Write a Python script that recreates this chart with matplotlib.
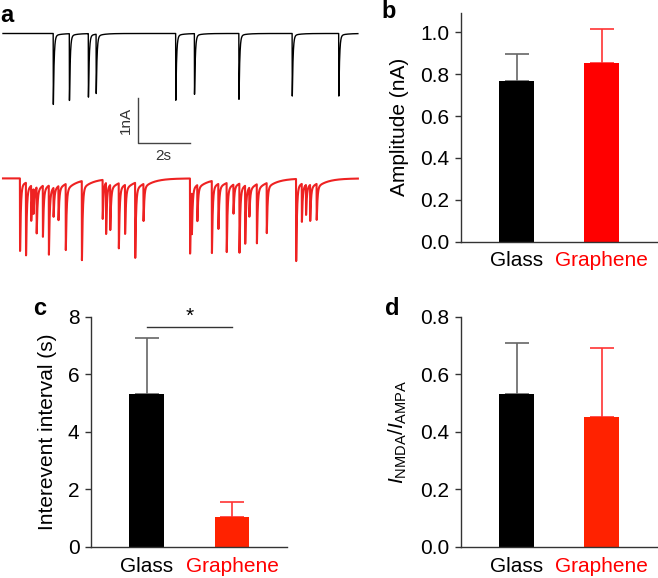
import numpy as np
import matplotlib
matplotlib.use("Agg")
import matplotlib.pyplot as plt

plt.rcParams['font.family'] = ['Liberation Sans', 'DejaVu Sans']
plt.rcParams['mathtext.fontset'] = 'custom'
plt.rcParams['mathtext.rm'] = 'Liberation Sans'
plt.rcParams['mathtext.it'] = 'Liberation Sans:italic'

# ---- data ----
groups = ['Glass', 'Graphene']

amp_mean = [0.77, 0.855]
amp_err = [0.125, 0.162]

iei_mean = [5.30, 1.04]
iei_err = [1.97, 0.51]

ratio_mean = [0.531, 0.452]
ratio_err = [0.176, 0.238]

# panel a: event times (s) and peak amplitudes (nA)
glass_times = [1.93, 2.55, 3.28, 3.58, 6.64, 7.36, 9.07, 11.12, 12.91]
glass_amps = [1.52, 1.43, 1.36, 1.27, 1.43, 1.30, 1.41, 1.34, 1.34]

graph_times = [0.65, 0.88, 1.08, 1.17, 1.29, 1.53, 1.76, 1.94, 2.13, 2.41,
               3.03, 3.83, 3.96, 4.12, 4.45, 4.69, 5.08, 5.40, 7.19, 7.26,
               7.47, 8.03, 8.28, 8.60, 8.86, 9.09, 9.31, 9.47, 9.76, 10.14,
               11.27, 11.49, 11.65, 11.81, 12.06]
graph_amps = [1.45, 1.45, 0.70, 0.50, 0.92, 1.02, 1.38, 0.58, 0.68, 1.32,
              1.58, 0.78, 1.02, 0.90, 1.30, 0.98, 1.50, 0.74, 1.50, 0.84,
              0.72, 1.44, 0.90, 1.38, 0.58, 1.38, 1.16, 0.58, 1.18, 1.00,
              1.64, 0.76, 0.60, 0.72, 0.72]

trace_len = 13.65
red_offset = -3.22

W, H = 658, 578
fig = plt.figure(figsize=(W / 100, H / 100), dpi=100)


def px_axes(left, top, right, bottom):
    return fig.add_axes([left / W, 1 - bottom / H, (right - left) / W, (bottom - top) / H])


def build_trace(times, amps, slow_frac, slow_tau):
    t = np.arange(0, trace_len, 0.001)
    y = np.zeros_like(t)
    for t0, a in zip(times, amps):
        dt = t - t0
        m = dt > 0
        fast = np.exp(-dt[m] / 0.03) - np.exp(-dt[m] / 0.002)
        fast = fast / fast.max()
        slow = np.exp(-dt[m] / slow_tau) - np.exp(-dt[m] / 0.002)
        y[m] -= a * (fast + slow_frac * slow)
    return t, y


# ---- panel a ----
ax = px_axes(0, 20, 365, 270)
t, yb = build_trace(glass_times, glass_amps, 0.04, 0.25)
ax.plot(t, yb, color='black', lw=1.0)
t, yr = build_trace(graph_times, graph_amps, 0.12, 0.4)
ax.plot(t, yr + red_offset, color='#ee2222', lw=1.5)
# scale bar
ax.plot([5.18, 5.18, 7.18], [-1.43, -2.43, -2.43], color='#444444', lw=1)
ax.text(4.98, -1.93, '1nA', rotation=90, ha='right', va='center', fontsize=11, color='#333333')
ax.text(6.18, -2.56, '2s', ha='center', va='top', fontsize=11, color='#333333')
ax.set_xlim(-3 / 26, 362 / 26)
ax.set_ylim(-(270 - 33.5) / 45, (33.5 - 20) / 45)
ax.axis('off')

# ---- bar panels ----
x = np.array([1, 2])
red_b = '#ff0000'
red_cd = '#ff2200'


def bar_panel(ax, means, errs, barred, ylim, ticks, fmt, ylabel):
    cols = ['black', barred]
    ecols = ['#666666', '#ff3333']
    for xi, m, e, c, ec in zip(x, means, errs, cols, ecols):
        ax.bar(xi, m, width=0.41, color=c, zorder=2)
        ax.errorbar(xi, m, yerr=[[0], [e]], fmt='none', ecolor=ec, elinewidth=1.2,
                    capsize=8.4, capthick=1.2, zorder=1)
    ax.set_xlim(0.341, 2.65)
    ax.set_ylim(*ylim)
    ax.set_yticks(ticks)
    ax.set_yticklabels([fmt.format(v) for v in ticks])
    ax.set_xticks(x)
    ax.set_xticklabels(groups)
    ax.get_xticklabels()[1].set_color(red_b)
    for s in ['top', 'right']:
        ax.spines[s].set_visible(False)
    for s in ['left', 'bottom']:
        ax.spines[s].set_color('#333333')
        ax.spines[s].set_linewidth(1.0)
    ax.tick_params(axis='y', length=4, width=1, color='#333333', labelsize=15, pad=4)
    ax.tick_params(axis='x', length=0, labelsize=15, pad=7)
    ax.set_ylabel(ylabel, fontsize=15, labelpad=8)


axb = px_axes(460.7, 12.7, 657, 241.7)
bar_panel(axb, amp_mean, amp_err, red_b, (0, 1.094), [0, 0.2, 0.4, 0.6, 0.8, 1.0],
          '{:.1f}', 'Amplitude (nA)')

axc = px_axes(90.7, 316.7, 287.3, 547)
bar_panel(axc, iei_mean, iei_err, red_cd, (0, 8), [0, 2, 4, 6, 8],
          '{:.0f}', 'Interevent interval (s)')
axc.plot([1, 2], [7.65, 7.65], color='#333333', lw=1)
axc.text(1.5, 7.7, '*', ha='center', va='bottom', fontsize=15)

axd = px_axes(460.7, 316.7, 657, 547)
bar_panel(axd, ratio_mean, ratio_err, red_cd, (0, 0.8), [0, 0.2, 0.4, 0.6, 0.8],
          '{:.1f}', r'$I_{\mathrm{NMDA}}/I_{\mathrm{AMPA}}$')

# panel letters
for lab, xp, yp in [('a', 0, 21.7), ('b', 381, 18.3), ('c', 33, 315), ('d', 385, 315)]:
    fig.text(xp / W, 1 - yp / H, lab, fontsize=17, fontweight='bold', va='baseline', ha='left')

fig.savefig('out.png', dpi=100)
